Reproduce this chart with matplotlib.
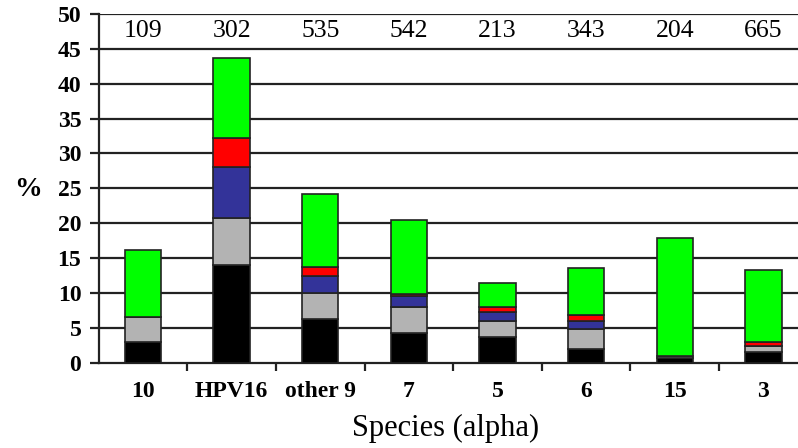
import numpy as np
import matplotlib
matplotlib.use('Agg')
import matplotlib.pyplot as plt

# ---------------- data ----------------
species = ['10', 'HPV16', 'other 9', '7', '5', '6', '15', '3']
counts = [109, 302, 535, 542, 213, 343, 204, 665]

# stacked segments (%), bottom to top
black = [3.0, 14.0, 6.25, 4.3, 3.7, 2.0, 0.6, 1.45]
gray = [3.5, 6.7, 3.75, 3.6, 2.2, 2.85, 0.4, 0.85]
blue = [0.0, 7.35, 2.35, 1.6, 1.3, 1.05, 0.0, 0.0]
red = [0.0, 4.15, 1.4, 0.4, 0.7, 0.9, 0.0, 0.6]
green = [9.7, 11.5, 10.4, 10.5, 3.5, 6.8, 16.85, 10.4]

segments = [black, gray, blue, red, green]
colors = ['#000000', '#b3b3b3', '#333399', '#ff0000', '#00ff00']

# ---------------- plot ----------------
plt.rcParams['font.family'] = ['Liberation Serif', 'DejaVu Serif']

fig = plt.figure(figsize=(7.98, 4.48), dpi=100)
ax = fig.add_axes([0.1237, 0.1908, 1 - 0.1237, 0.778])

x = np.arange(len(species))
bottom = np.zeros(len(species))
for seg, col in zip(segments, colors):
    seg = np.array(seg)
    ax.bar(x, seg, bottom=bottom, width=0.41, color=col,
           edgecolor='#222222', linewidth=1.2, zorder=3)
    bottom += seg

ax.set_ylim(0, 50)
ax.set_xlim(-0.5, 7.39)
ax.set_yticks(np.arange(0, 51, 5))
for yv in np.arange(5, 51, 5):
    ax.axhline(yv, color='#222222', linewidth=1.6, zorder=1)

for s in ['right', 'top']:
    ax.spines[s].set_visible(False)
ax.spines['left'].set_linewidth(1.6)
ax.spines['bottom'].set_linewidth(1.6)
ax.spines['left'].set_color('#222222')
ax.spines['bottom'].set_color('#222222')

# category labels at centres, tick marks at boundaries
ax.set_xticks(x)
ax.set_xticklabels(species, fontweight='bold', fontsize=17)
ax.set_xticks(np.arange(0.5, 7, 1), minor=True)
ax.tick_params(axis='x', which='major', length=0, pad=13)
ax.tick_params(axis='x', which='minor', length=6, width=1.6, direction='out', color='#222222')
ax.tick_params(axis='y', length=6.5, width=1.6, pad=6, color='#222222')
for lab in ax.get_yticklabels():
    lab.set_fontweight('bold')
    lab.set_fontsize(17)

for xi, c in zip(x, counts):
    ax.text(xi, 47.5, str(c), ha='center', va='center', fontsize=18.5)

fig.text(28 / 798, 1 - 190 / 448, '%', ha='center', va='center',
         fontsize=20, fontweight='bold')
fig.text(446 / 798, 1 - 428 / 448, 'Species (alpha)', ha='center', va='center',
         fontsize=22)

fig.savefig('out.png', dpi=100)
